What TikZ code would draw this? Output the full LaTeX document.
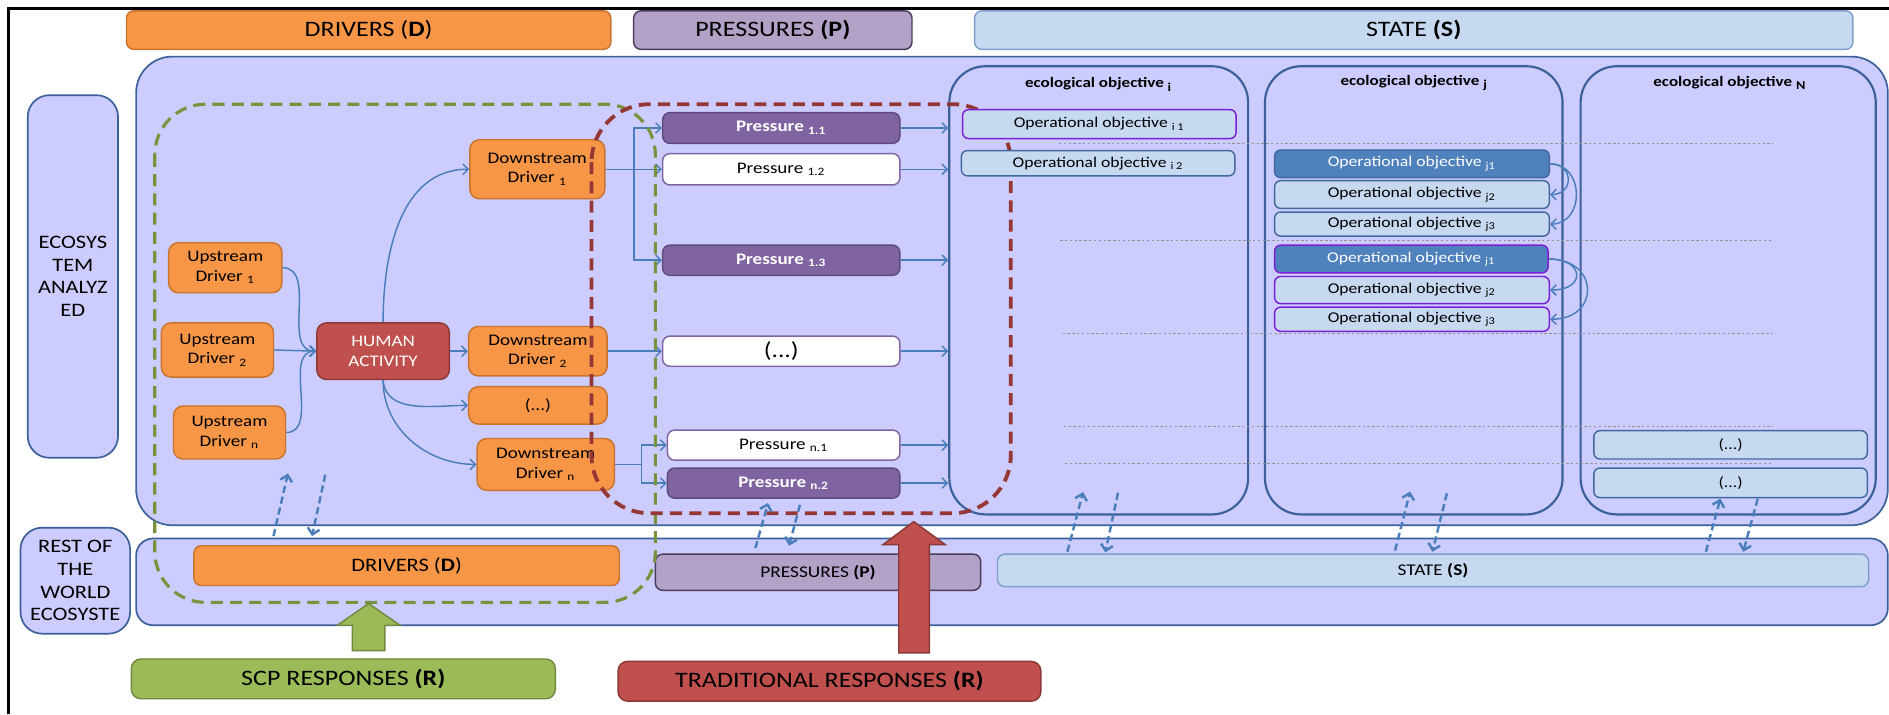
\documentclass[tikz,border=0pt]{standalone}
\usepackage{fontspec}
\setmainfont{Carlito}[FakeStretch=1.18]
\usetikzlibrary{arrows.meta}
\definecolor{orangeF}{HTML}{F79646}
\definecolor{orangeD}{HTML}{C8742E}
\definecolor{lav}{HTML}{CCCCFF}
\definecolor{lavD}{HTML}{3C619A}
\definecolor{lblue}{HTML}{C6D9F1}
\definecolor{lblueD}{HTML}{7F9FCB}
\definecolor{objD}{HTML}{41689F}
\definecolor{dblue}{HTML}{4F81BD}
\definecolor{ppl}{HTML}{8064A2}
\definecolor{pplD}{HTML}{5F4B7A}
\definecolor{lppl}{HTML}{B2A2C7}
\definecolor{lpplD}{HTML}{4B3C5C}
\definecolor{vio}{HTML}{7A1FD6}
\definecolor{hred}{HTML}{C0504D}
\definecolor{hredD}{HTML}{8C3836}
\definecolor{grF}{HTML}{9BBB59}
\definecolor{grD}{HTML}{71893F}
\definecolor{grDash}{HTML}{77933C}
\definecolor{redDash}{HTML}{953735}
\definecolor{arrC}{HTML}{4A7EBB}
\newcommand\fsHead{\fontsize{9.15pt}{11pt}\selectfont}
\newcommand\fsNode{\fontsize{6.7pt}{8.1pt}\selectfont}
\newcommand\fsObj{\fontsize{6.2pt}{7.5pt}\selectfont}
\newcommand\fsTitle{\fontsize{6.0pt}{7.5pt}\selectfont\bfseries}
\newcommand\fsSide{\fontsize{7.9pt}{9.4pt}\selectfont}
\newcommand\fsLowD{\fontsize{7.9pt}{9.5pt}\selectfont}
\newcommand\fsLow{\fontsize{6.8pt}{8pt}\selectfont}
\newcommand\fsDots{\fontsize{9pt}{10pt}\selectfont}
\newcommand\sbs[1]{\textsubscript{#1}}
\newcommand\bx[7]{\node[#1,minimum width={(#4-#2)*0.5pt},minimum height={(#5-#3)*0.5pt}] (#6) at ({(#2+#4)/2},{(#3+#5)/2}) {#7};}
\tikzset{
  rbox/.style={rounded corners=3pt, line width=0.6pt, inner sep=0pt, align=center},
  hdr/.style={rbox, font=\fsHead},
  cont/.style={fill=lav, draw=lavD, line width=0.7pt, inner sep=0pt, align=center},
  ecob/.style={draw=lavD, line width=0.9pt, rounded corners=15pt, inner sep=0pt},
  drv/.style={rbox, rounded corners=4pt, fill=orangeF, draw=orangeD, font=\fsNode},
  hum/.style={rbox, rounded corners=4pt, fill=hred, draw=hredD, text=white, font=\fsNode},
  pd/.style={rbox, fill=ppl, draw=pplD, text=white, font=\fsNode\bfseries},
  pw/.style={rbox, fill=white, draw=ppl, font=\fsNode},
  obj/.style={rbox, rounded corners=2.5pt, fill=lblue, draw=objD, font=\fsObj},
  objv/.style={obj, draw=vio},
  objd/.style={obj, fill=dblue, text=white},
  arr/.style={draw=arrC, line width=0.6pt, -{Straight Barb[length=2.2pt,width=4.4pt]}},
  darr/.style={draw=arrC, line width=1pt, dash pattern=on 3pt off 1.6pt, -{Straight Barb[length=2.5pt,width=5pt]}},
  dotln/.style={draw=gray!85, line width=0.4pt, dash pattern=on 1pt off 1pt},
  gdash/.style={draw=grDash, line width=1.3pt, dash pattern=on 5pt off 3pt, rounded corners=21pt},
  rdash/.style={draw=redDash, line width=1.6pt, dash pattern=on 5pt off 3pt, rounded corners=24pt},
  title/.style={font=\fsTitle, inner sep=1pt}
}
\begin{document}
\begin{tikzpicture}[x=0.5pt,y=-0.5pt]
\useasboundingbox (0,0) rectangle (1568,593);
\fill[white] (0,0) rectangle (1568,593);
\draw[line width=1.1pt] (7,593) -- (7,7) -- (1568,7);
% headers
\bx{hdr,fill=orangeF,draw=orangeD}{105}{9}{507}{41}{hD}{DRIVERS (\textbf{D})}
\bx{hdr,fill=lppl,draw=lpplD}{526}{9}{757}{41}{hP}{PRESSURES \textbf{(P)}}
\bx{hdr,fill=lblue,draw=lblueD}{809}{9}{1538}{41}{hS}{STATE \textbf{(S)}}
% containers
\bx{cont,rounded corners=15pt}{113}{47}{1567}{436}{eco}{}
\bx{cont,rounded corners=7pt}{113}{447}{1567}{519}{rest}{}
\bx{cont,rounded corners=9pt,font=\fsSide}{23}{79}{98}{380}{ecoL}{ECOSYS\\TEM\\ANALYZ\\ED}
\bx{cont,rounded corners=9pt,font=\fsSide}{17}{438}{108}{526}{restL}{REST OF\\THE\\WORLD\\ECOSYSTE}
% ecological objective boxes
\bx{ecob}{788}{55}{1036}{427}{ei}{}
\bx{ecob}{1050}{55}{1297}{427}{ej}{}
\bx{ecob}{1312}{55}{1557}{427}{eN}{}
\node[title] (ti) at (912,70) {ecological objective \sbs{i}};
\node[title] (tj) at (1174,69) {ecological objective \sbs{j}};
\node[title] (tN) at (1436,69) {ecological objective \sbs{N}};
% dotted guide lines
\foreach \yy/\xs in {119.5/879,200/880,277/882,354/883,385/884}
  \draw[dotln] (\xs,\yy) -- (1472,\yy);
% lower boxes
\bx{rbox,fill=orangeF,draw=orangeD,font=\fsLowD}{161}{453}{514}{486}{lD}{DRIVERS (\textbf{D})}
\bx{rbox,fill=lppl,draw=lpplD,font=\fsLow}{544}{460}{814}{490}{lP}{PRESSURES \textbf{(P)}}
\bx{rbox,fill=lblue,draw=lblueD,font=\fsLow}{828}{460}{1551}{487}{lS}{STATE \textbf{(S)}}
% drivers
\bx{drv}{140}{201.5}{234}{243}{u1}{Upstream\\Driver \sbs{1}}
\bx{drv}{134}{268}{227}{313}{u2}{Upstream\\Driver \sbs{2}}
\bx{drv}{144}{337}{237}{381}{un}{Upstream\\Driver \sbs{n}}
\bx{hum}{263}{268}{373}{315}{ha}{HUMAN\\ACTIVITY}
\bx{drv}{390}{116}{502}{165}{d1}{Downstream\\Driver \sbs{1}}
\bx{drv}{389}{271}{504}{312}{d2}{Downstream\\Driver \sbs{2}}
\bx{drv}{389}{321}{504}{352}{dx}{(...)}
\bx{drv}{396}{364}{510}{407}{dn}{Downstream\\Driver \sbs{n}}
% pressures
\bx{pd}{550}{93.5}{747}{119}{p11}{Pressure \sbs{1.1}}
\bx{pw}{550}{127.5}{747}{153.5}{p12}{Pressure \sbs{1.2}}
\bx{pd}{550}{203.5}{747}{228.5}{p13}{Pressure \sbs{1.3}}
\bx{pw,font=\fsDots}{550}{279}{747}{304}{px}{(...)}
\bx{pw}{554}{357}{747}{382}{pn1}{Pressure \sbs{n.1}}
\bx{pd}{554}{388.5}{747}{413.5}{pn2}{Pressure \sbs{n.2}}
% connectors drivers
\draw[arr] (u1.east) to[out=0,in=180] (ha.west);
\draw[arr] (u2.east) -- (ha.west);
\draw[arr] (un.east) to[out=0,in=180] (ha.west);
\draw[arr] (ha.north) to[out=90,in=180] (d1.west);
\draw[arr] (ha.east) -- (d2.west);
\draw[arr] (ha.south) to[out=-85,in=180] (dx.west);
\draw[arr] (ha.south) to[out=-90,in=180] (dn.west);
\draw[arr] (d1.east) -- (p12.west);
\draw[arr] (d1.east) -- ++(23.6,0) |- (p11.west);
\draw[arr] (d1.east) -- ++(23.6,0) |- (p13.west);
\draw[arr] (d2.east) -- (px.west);
\draw[arr] (dn.east) -- ++(22,0) |- (pn1.west);
\draw[arr] (dn.east) -- ++(22,0) |- (pn2.west);
\foreach \p in {p11,p12,p13,px,pn1,pn2}
  \draw[arr] (\p.east) -- (\p.east -| ei.west);
% dashed regions
\draw[gdash] (128.5,86.5) rectangle (544,500);
\draw[rdash] (491,86.5) rectangle (839,426);
% operational objectives
\bx{objv}{799}{91}{1026}{115}{oi1}{Operational objective \sbs{i 1}}
\bx{obj}{798}{125}{1025}{146}{oi2}{Operational objective \sbs{i 2}}
\bx{objd}{1058}{124.5}{1286}{147.5}{oja1}{Operational objective \sbs{j1}}
\bx{obj}{1058}{150}{1286}{173}{oja2}{Operational objective \sbs{j2}}
\bx{obj}{1058}{176}{1286}{196}{oja3}{Operational objective \sbs{j3}}
\bx{objd,draw=vio}{1058}{203.5}{1285}{226.5}{ojb1}{Operational objective \sbs{j1}}
\bx{objv}{1058}{229.5}{1286}{252}{ojb2}{Operational objective \sbs{j2}}
\bx{objv}{1058}{255}{1286}{275}{ojb3}{Operational objective \sbs{j3}}
\bx{obj}{1323}{357.5}{1550}{381}{on1}{(...)}
\bx{obj}{1323}{388.5}{1550}{413}{on2}{(...)}
\draw[arr] (oja1.east) .. controls +(20,0) and +(20,0) .. (oja2.east);
\draw[arr] (oja1.east) .. controls +(29,0) and +(29,0) .. (oja3.east);
\draw[arr] (ojb1.east) .. controls +(30,0) and +(30,0) .. (ojb2.east);
\draw[arr] (ojb1.east) .. controls +(42,0) and +(42,0) .. (ojb3.east);
% exchange arrows between ecosystem and rest of world
\coordinate (a1s) at (227,445); \coordinate (a1e) at (239,393);
\coordinate (a2s) at (270,394); \coordinate (a2e) at (259,445);
\coordinate (b1s) at (627,455); \coordinate (b1e) at (637.5,417.5);
\coordinate (b2s) at (664,419); \coordinate (b2e) at (655,453);
\coordinate (c1s) at (886,458); \coordinate (c1e) at (899,408.5);
\coordinate (c2s) at (928,409); \coordinate (c2e) at (917.5,458.5);
\coordinate (e1s) at (1158,457); \coordinate (e1e) at (1170.5,408);
\coordinate (e2s) at (1201,409.5); \coordinate (e2e) at (1189,458);
\coordinate (f1s) at (1416,458); \coordinate (f1e) at (1428,414);
\coordinate (f2s) at (1459,414); \coordinate (f2e) at (1447,458);
\foreach \q in {a1,a2,b1,b2,c1,c2,e1,e2,f1,f2}
  \draw[darr] (\q s) -- (\q e);
% block arrows
\draw[fill=grF, draw=grD, line width=0.6pt] (306,501) -- (332,519) -- (319.5,519) -- (319.5,540) -- (292.5,540) -- (292.5,519) -- (280,519) -- cycle;
\draw[fill=hred, draw=hredD, line width=0.6pt] (758.5,433) -- (784.5,452) -- (771.5,452) -- (771.5,542) -- (746,542) -- (746,452) -- (733,452) -- cycle;
% responses
\bx{rbox,rounded corners=4pt,fill=grF,draw=grD,font=\fsHead}{109}{547}{461}{580}{scp}{SCP RESPONSES \textbf{(R)}}
\bx{rbox,rounded corners=4pt,fill=hred,draw=hredD,font=\fsHead}{513}{549}{864}{582}{trad}{TRADITIONAL RESPONSES \textbf{(R)}}
\end{tikzpicture}
\end{document}
